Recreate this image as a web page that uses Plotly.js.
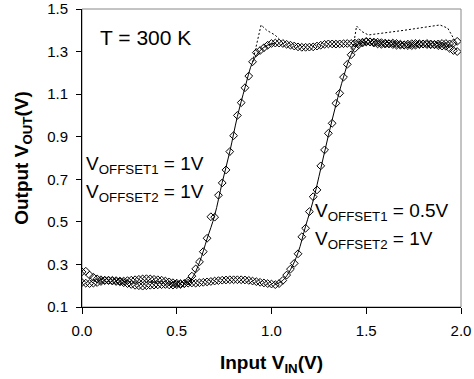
<!DOCTYPE html>
<html><head><meta charset="utf-8">
<script src="https://cdn.plot.ly/plotly-3.0.1.min.js"></script>
<style>body{margin:0;background:#fff}#chart{width:474px;height:379px}</style>
</head><body><div id="chart"></div>
<script>
// shared input grid (V)
const xs = [0.00,0.02,0.04,0.06,0.08,0.10,0.12,0.14,0.16,0.18,0.20,0.22,0.24,0.26,0.28,0.30,0.32,0.34,0.36,0.38,
  0.40,0.42,0.44,0.46,0.48,0.50,0.52,0.54,0.56,0.58,0.60,0.62,0.64,0.66,0.68,0.70,0.72,0.74,0.76,0.78,
  0.80,0.82,0.84,0.86,0.88,0.90,0.92,0.94,0.96,0.98,1.00,1.02,1.04,1.06,1.08,1.10,1.12,1.14,1.16,1.18,
  1.20,1.22,1.24,1.26,1.28,1.30,1.32,1.34,1.36,1.38,1.40,1.42,1.44,1.46,1.48,1.50,1.52,1.54,1.56,1.58,
  1.60,1.62,1.64,1.66,1.68,1.70,1.72,1.74,1.76,1.78,1.80,1.82,1.84,1.86,1.88,1.90,1.92,1.94,1.96,1.98];
// measured output, VOFFSET1 = 1V
const out1 = [0.265,0.268,0.250,0.240,0.232,0.228,0.226,0.224,0.222,0.220,0.218,0.214,0.210,0.206,0.202,0.200,0.198,0.200,0.202,0.203,
  0.204,0.205,0.206,0.204,0.203,0.205,0.206,0.210,0.222,0.245,0.279,0.312,0.360,0.423,0.524,0.522,0.625,0.683,0.744,0.830,
  0.905,1.000,1.060,1.130,1.185,1.252,1.295,1.305,1.318,1.330,1.338,1.340,1.340,1.338,1.334,1.330,1.326,1.322,1.320,1.320,
  1.321,1.322,1.326,1.330,1.334,1.336,1.336,1.335,1.336,1.337,1.338,1.338,1.340,1.342,1.344,1.345,1.346,1.345,1.344,1.342,
  1.340,1.336,1.333,1.330,1.330,1.332,1.335,1.337,1.338,1.337,1.335,1.333,1.332,1.334,1.336,1.338,1.338,1.336,1.340,1.348];
// measured output, VOFFSET1 = 0.5V
const out2 = [0.215,0.212,0.210,0.212,0.215,0.220,0.224,0.226,0.225,0.224,0.222,0.222,0.224,0.226,0.228,0.230,0.232,0.233,0.232,0.230,
  0.228,0.226,0.222,0.218,0.214,0.212,0.210,0.210,0.212,0.213,0.212,0.214,0.216,0.218,0.220,0.222,0.224,0.226,0.227,0.228,
  0.228,0.228,0.228,0.227,0.225,0.222,0.219,0.216,0.213,0.210,0.208,0.205,0.210,0.225,0.250,0.278,0.305,0.350,0.430,0.470,
  0.548,0.618,0.650,0.763,0.838,0.916,0.963,1.057,1.104,1.180,1.240,1.285,1.315,1.332,1.340,1.348,1.345,1.340,1.336,1.334,
  1.335,1.338,1.340,1.338,1.335,1.330,1.328,1.328,1.330,1.333,1.336,1.338,1.336,1.332,1.328,1.326,1.325,1.315,1.305,1.300];
// solid fitted curves through the transitions
const fit1X = [0.54,0.58,0.62,0.66,0.70,0.74,0.78,0.82,0.86,0.90,0.94,0.98,1.02];
const fit1Y = [0.210,0.235,0.310,0.420,0.530,0.685,0.830,0.995,1.130,1.250,1.305,1.330,1.340];
const fit2X = [1.02,1.06,1.10,1.14,1.18,1.22,1.26,1.30,1.34,1.38,1.42,1.46,1.50];
const fit2Y = [0.205,0.225,0.275,0.355,0.480,0.600,0.750,0.905,1.050,1.180,1.285,1.335,1.345];
// dotted ideal curves
const ideal1X = [0.900,0.945,0.975,1.018,1.040];
const ideal1Y = [1.250,1.425,1.400,1.378,1.360];
const ideal2X = [1.425,1.449,1.475,1.511,1.700,1.889,1.930,1.960,1.975];
const ideal2Y = [1.290,1.420,1.395,1.378,1.400,1.425,1.410,1.362,1.340];

const mk = {symbol:'diamond-open', size:6, color:'#000', line:{width:1,color:'#000'}};
const traces = [
  {x:ideal1X, y:ideal1Y, mode:'lines', line:{color:'#000', width:1, dash:'2px,2px'}},
  {x:ideal2X, y:ideal2Y, mode:'lines', line:{color:'#000', width:1, dash:'2px,2px'}},
  {x:fit1X, y:fit1Y, mode:'lines', line:{color:'#000', width:1, shape:'spline'}},
  {x:fit2X, y:fit2Y, mode:'lines', line:{color:'#000', width:1, shape:'spline'}},
  {x:xs, y:out1, mode:'markers', marker:mk},
  {x:xs, y:out2, mode:'markers', marker:mk}
];
const F = 'Liberation Sans, Arial, sans-serif';
const ann = (x,y,t)=>({x:x,y:y,xref:'paper',yref:'paper',text:t,showarrow:false,xanchor:'left',yanchor:'middle',font:{family:F,size:19,color:'#000'}});
const layout = {
  width:474, height:379,
  margin:{l:82,r:13,t:9,b:72},
  paper_bgcolor:'#fff', plot_bgcolor:'#fff',
  showlegend:false,
  font:{family:F, color:'#000'},
  xaxis:{range:[0,2], dtick:0.5, tick0:0, tickformat:'.1f', ticks:'outside', ticklen:6, tickwidth:1, tickcolor:'#000',
    ticklabelstandoff:4,
    showline:true, linecolor:'#000', linewidth:1, showgrid:false, zeroline:false, tickfont:{family:F,size:15,color:'#000'},
    title:{text:'<b>Input V<sub>IN</sub>(V)</b>', font:{family:F,size:19,color:'#000'}, standoff:17}},
  yaxis:{range:[0.1,1.5], dtick:0.2, tick0:0.1, tickformat:'.1f', ticks:'outside', ticklen:5, tickwidth:1, tickcolor:'#000',
    ticklabelstandoff:5,
    showline:true, linecolor:'#000', linewidth:1, showgrid:false, zeroline:false, tickfont:{family:F,size:15,color:'#000'},
    title:{text:'<b>Output V<sub>OUT</sub>(V)</b>', font:{family:F,size:19,color:'#000'}, standoff:13}},
  shapes:[{type:'rect', xref:'paper', yref:'paper', x0:0, x1:1, y0:0, y1:1, line:{color:'#888', width:1}, layer:'below'}],
  annotations:[
    {x:0.042, y:0.906, xref:'paper', yref:'paper', text:'T = 300 K', showarrow:false, xanchor:'left', yanchor:'middle', font:{family:F,size:21,color:'#000'}},
    ann(0.005,0.475,'V<sub>OFFSET1</sub> = 1V'),
    ann(0.005,0.383,'V<sub>OFFSET2</sub> = 1V'),
    ann(0.61,0.32,'V<sub>OFFSET1</sub> = 0.5V'),
    ann(0.61,0.225,'V<sub>OFFSET2</sub> = 1V')
  ]
};
Plotly.newPlot('chart', traces, layout, {displayModeBar:false, staticPlot:true});
</script></body></html>
